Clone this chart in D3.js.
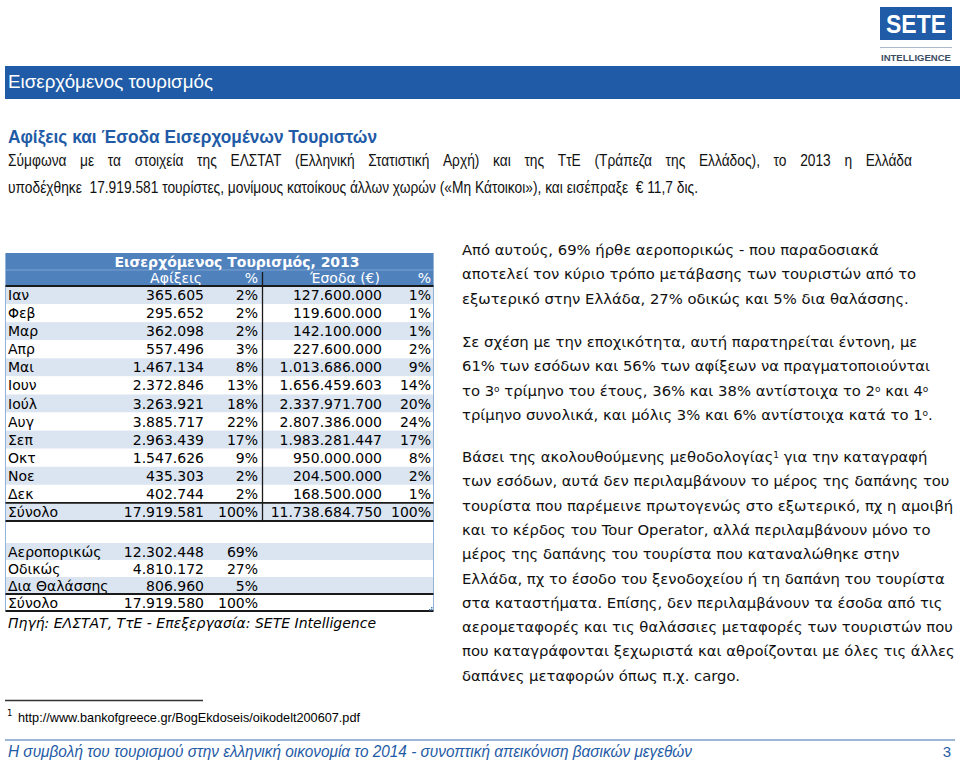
<!DOCTYPE html>
<html><head><meta charset="utf-8">
<script src="https://cdn.jsdelivr.net/npm/d3@7"></script>
<style>body{margin:0;background:#fff}svg{display:block}</style>
</head><body>
<script>
// ---------------- DATA ----------------
const months = ['Ιαν','Φεβ','Μαρ','Απρ','Μαι','Ιουν','Ιούλ','Αυγ','Σεπ','Οκτ','Νοε','Δεκ'];
const arrivals = [365605, 295652, 362098, 557496, 1467134, 2372846, 3263921, 3885717, 2963439, 1547626, 435303, 402744];
const arrivalsPct = [2,2,2,3,8,13,18,22,17,9,2,2];
const revenue = [127600000, 119600000, 142100000, 227600000, 1013686000, 1656459603, 2337971700, 2807386000, 1983281447, 950000000, 204500000, 168500000];
const revenuePct = [1,1,1,2,9,14,20,24,17,8,2,1];
const totalLabel = 'Σύνολο';
const totalArrivals = 17919581, totalArrivalsPct = 100;
const totalRevenue = 11738684750, totalRevenuePct = 100;
const modes = ['Αεροπορικώς','Οδικώς','Δια Θαλάσσης'];
const modeArrivals = [12302448, 4810172, 806960];
const modePct = [69,27,5];
const modeTotal = 17919580, modeTotalPct = 100;
const headerTitle = 'Εισερχόμενος Τουρισμός, 2013';
const headerCols = ['Αφίξεις','%','Έσοδα (€)','%'];
const sourceNote = 'Πηγή: ΕΛΣΤΑΤ, ΤτΕ - Επεξεργασία: SETE Intelligence';

const bannerText = 'Εισερχόμενος τουρισμός';
const sectionTitle = 'Αφίξεις και Έσοδα Εισερχομένων Τουριστών';
const introLines = [
  'Σύμφωνα με τα στοιχεία της ΕΛΣΤΑΤ (Ελληνική Στατιστική Αρχή) και της ΤτΕ (Τράπεζα της Ελλάδος), το 2013 η Ελλάδα',
  'υποδέχθηκε  17.919.581 τουρίστες, μονίμους κατοίκους άλλων χωρών («Μη Κάτοικοι»), και εισέπραξε  € 11,7 δις.'
];
const paragraphs = [
  ['Από αυτούς, 69% ήρθε αεροπορικώς - που παραδοσιακά',
   'αποτελεί τον κύριο τρόπο μετάβασης των τουριστών από το',
   'εξωτερικό στην Ελλάδα, 27% οδικώς και 5% δια θαλάσσης.'],
  ['Σε σχέση με την εποχικότητα, αυτή παρατηρείται έντονη, με',
   '61% των εσόδων και 56% των αφίξεων να πραγματοποιούνται',
   'το 3^ο τρίμηνο του έτους, 36% και 38% αντίστοιχα το 2^ο και 4^ο',
   'τρίμηνο συνολικά, και μόλις 3% και 6% αντίστοιχα κατά το 1^ο.'],
  ['Βάσει της ακολουθούμενης μεθοδολογίας^1 για την καταγραφή',
   'των εσόδων, αυτά δεν περιλαμβάνουν το μέρος της δαπάνης του',
   'τουρίστα που παρέμεινε πρωτογενώς στο εξωτερικό, πχ η αμοιβή',
   'και το κέρδος του Tour Operator, αλλά περιλαμβάνουν μόνο το',
   'μέρος της δαπάνης του τουρίστα που καταναλώθηκε στην',
   'Ελλάδα, πχ το έσοδο του ξενοδοχείου ή τη δαπάνη του τουρίστα',
   'στα καταστήματα. Επίσης, δεν περιλαμβάνουν τα έσοδα από τις',
   'αερομεταφορές και τις θαλάσσιες μεταφορές των τουριστών που',
   'που καταγράφονται ξεχωριστά και αθροίζονται με όλες τις άλλες',
   'δαπάνες μεταφορών όπως π.χ. cargo.']
];
const footnoteNum = '1';
const footnoteText = 'http://www.bankofgreece.gr/BogEkdoseis/oikodelt200607.pdf';
const footerText = 'Η συμβολή του τουρισμού στην ελληνική οικονομία το 2014 - συνοπτική απεικόνιση βασικών μεγεθών';
const pageNumber = '3';

// ---------------- SETUP ----------------
const W = 960, H = 765;
const svg = d3.select('body').append('svg').attr('width', W).attr('height', H);
const sans = "'Liberation Sans', Arial, sans-serif";
const verd = "'DejaVu Sans', Verdana, sans-serif";
const blue = '#1f5ba6';
const headBlue = '#4f81bd';
const stripe = '#dbe5f1';
const gridBlue = '#95b3d7';

const loc = d3.formatLocale({decimal: ',', thousands: '.', grouping: [3], currency: ['€', '']});
const fmtN = loc.format(',d');
const fmtP = v => v + '%';

// condensed look: compress glyphs to a target width
function squeeze(sel, width) {
  return sel.attr('textLength', width).attr('lengthAdjust', 'spacingAndGlyphs');
}

// ---------------- LOGO ----------------
svg.append('rect').attr('x', 880).attr('y', 7).attr('width', 72).attr('height', 33).attr('fill', blue);
squeeze(svg.append('text').attr('x', 886).attr('y', 33)
  .attr('font-family', sans).attr('font-weight', 'bold')
  .attr('font-size', 25).attr('fill', '#fff').text('SETE'), 60);
svg.append('line').attr('x1', 880).attr('x2', 952).attr('y1', 47.5).attr('y2', 47.5)
  .attr('stroke', '#a9b8cc').attr('stroke-width', 1);
squeeze(svg.append('text').attr('x', 881).attr('y', 61)
  .attr('font-family', sans).attr('font-weight', 'bold').attr('font-size', 8.5)
  .attr('fill', '#3b4d63').text('INTELLIGENCE'), 70);

// ---------------- BANNER ----------------
svg.append('rect').attr('x', 5).attr('y', 66).attr('width', 955).attr('height', 33).attr('fill', blue);
squeeze(svg.append('text').attr('x', 8).attr('y', 88).attr('font-family', sans)
  .attr('font-size', 18).attr('fill', '#fff').text(bannerText), 205);

// ---------------- TITLE & INTRO ----------------
squeeze(svg.append('text').attr('x', 8).attr('y', 143).attr('font-family', sans)
  .attr('font-weight', 'bold').attr('font-size', 18).attr('fill', blue).text(sectionTitle), 369);

const bodyFs = 16.5;
const l2 = svg.append('text').attr('x', 8).attr('y', 193).attr('font-family', sans)
  .attr('font-size', bodyFs).attr('fill', '#111').style('white-space', 'pre').text(introLines[1]);
const nat2 = l2.node().getComputedTextLength();
const line2W = 690;
const comp = line2W / nat2;
squeeze(l2, line2W);

// justified first line: words individually squeezed, spread to the right margin
{
  const words = introLines[0].split(' ');
  const g = svg.append('g');
  const ws = g.selectAll('text').data(words).join('text')
    .attr('y', 166).attr('font-family', sans).attr('font-size', bodyFs).attr('fill', '#111').text(d => d);
  const widths = [];
  ws.each(function() { widths.push(this.getComputedTextLength() * comp); });
  const total = d3.sum(widths);
  const gap = (912 - 8 - total) / (words.length - 1);
  let x = 8;
  ws.each(function(d, i) {
    d3.select(this).attr('x', x).attr('textLength', widths[i]).attr('lengthAdjust', 'spacingAndGlyphs');
    x += widths[i] + gap;
  });
}

// ---------------- TABLE ----------------
const tbl = svg.append('g');
const colRight = d3.scaleOrdinal().domain(['arr','ap','rev','rp']).range([204, 258, 382, 431]);
const tableLeft = 5.5, tableRight = 433.5;
const rows = months.map((m, i) => ({label: m, arr: arrivals[i], ap: arrivalsPct[i], rev: revenue[i], rp: revenuePct[i]}))
  .concat([{label: totalLabel, arr: totalArrivals, ap: totalArrivalsPct, rev: totalRevenue, rp: totalRevenuePct, total: true}]);
const yRow = d3.scaleBand().domain(rows.map(d => d.label)).range([286, 521]);
const modeRows = modes.map((m, i) => ({label: m, arr: modeArrivals[i], ap: modePct[i]}))
  .concat([{label: totalLabel, arr: modeTotal, ap: modeTotalPct, total: true}]);
const yMode = d3.scaleBand().domain(modeRows.map(d => d.label)).range([543, 611]);

// header
tbl.append('rect').attr('x', tableLeft).attr('y', 253).attr('width', tableRight - tableLeft).attr('height', 33).attr('fill', headBlue);
tbl.append('line').attr('x1', tableLeft).attr('x2', tableRight).attr('y1', 270).attr('y2', 270).attr('stroke', '#7ea1cf').attr('stroke-width', 1);
tbl.append('text').attr('x', 237).attr('y', 267).attr('text-anchor', 'middle').attr('font-family', verd)
  .attr('font-weight', 'bold').attr('font-size', 14).attr('fill', '#fff').text(headerTitle);
const hdrKeys = ['arr','ap','rev','rp'];
tbl.selectAll('text.hdr').data(headerCols).join('text').attr('class', 'hdr')
  .attr('x', (d, i) => colRight(hdrKeys[i]) - (i === 0 || i === 2 ? 2 : 0)).attr('y', 283)
  .attr('text-anchor', 'end').attr('font-family', verd).attr('font-size', 14).attr('fill', '#fff').text(d => d);

// stripes
tbl.selectAll('rect.row').data(rows).join('rect').attr('class', 'row')
  .attr('x', tableLeft).attr('width', tableRight - tableLeft)
  .attr('y', d => yRow(d.label)).attr('height', yRow.bandwidth())
  .attr('fill', (d, i) => i % 2 === 0 ? stripe : '#fff');
tbl.selectAll('rect.mrow').data(modeRows).join('rect').attr('class', 'mrow')
  .attr('x', tableLeft).attr('width', tableRight - tableLeft)
  .attr('y', d => yMode(d.label)).attr('height', yMode.bandwidth())
  .attr('fill', (d, i) => i % 2 === 0 ? stripe : '#fff');

// row text
function rowText(g, data, y, keys) {
  const grp = g.selectAll(null).data(data).join('g').attr('transform', d => `translate(0,${y(d.label) + y.bandwidth() / 2 + 5})`);
  grp.append('text').attr('x', 8).attr('font-family', verd).attr('font-size', 14).attr('fill', '#000').text(d => d.label);
  keys.forEach(k => {
    grp.append('text').attr('x', colRight(k)).attr('text-anchor', 'end').attr('font-family', verd)
      .attr('font-size', 14).attr('fill', '#000')
      .text(d => (k === 'ap' || k === 'rp') ? fmtP(d[k]) : fmtN(d[k]));
  });
}
rowText(tbl, rows, yRow, ['arr','ap','rev','rp']);
rowText(tbl, modeRows, yMode, ['arr','ap']);

// borders
const dark = '#1a1a1a';
tbl.append('line').attr('x1', tableLeft).attr('x2', tableLeft).attr('y1', 253).attr('y2', 611).attr('stroke', gridBlue).attr('stroke-width', 1);
tbl.append('line').attr('x1', tableRight).attr('x2', tableRight).attr('y1', 253).attr('y2', 611).attr('stroke', gridBlue).attr('stroke-width', 1);
[286, yRow(totalLabel), 521, yMode(totalLabel), 611].forEach(y => {
  tbl.append('line').attr('x1', tableLeft).attr('x2', tableRight).attr('y1', y).attr('y2', y).attr('stroke', dark).attr('stroke-width', 1.8);
});
tbl.append('line').attr('x1', 262.5).attr('x2', 262.5).attr('y1', 272).attr('y2', 522).attr('stroke', dark).attr('stroke-width', 1.3);
[[431,609],[429,609],[431,607]].forEach(p => tbl.append('rect').attr('x', p[0]).attr('y', p[1]).attr('width', 1.5).attr('height', 1.5).attr('fill', '#4f81bd'));

svg.append('text').attr('x', 8).attr('y', 628).attr('font-family', verd).attr('font-style', 'italic')
  .attr('font-size', 14).attr('fill', '#000').text(sourceNote);

// ---------------- RIGHT COLUMN ----------------
const paraTop = [250, 342, 457];
const lineGap = 24.3;
const rc = svg.append('g');
paragraphs.forEach((p, pi) => {
  p.forEach((line, li) => {
    const t = rc.append('text').attr('x', 462).attr('y', paraTop[pi] + li * lineGap + 5)
      .attr('font-family', verd).attr('font-size', 14.8).attr('fill', '#111');
    const parts = line.split(/\^(\S)/);
    parts.forEach((s, k) => {
      if (k % 2 === 0) { if (s) t.append('tspan').text(s); }
      else t.append('tspan').attr('font-size', 9).attr('baseline-shift', '45%').text(s);
    });
  });
});

// ---------------- FOOTNOTE & FOOTER ----------------
svg.append('line').attr('x1', 5).attr('x2', 203).attr('y1', 700.5).attr('y2', 700.5).attr('stroke', '#333').attr('stroke-width', 1.3);
svg.append('text').attr('x', 7).attr('y', 716).attr('font-family', verd).attr('font-size', 8.5).attr('fill', '#000').text(footnoteNum);
squeeze(svg.append('text').attr('x', 18).attr('y', 722).attr('font-family', sans).attr('font-size', 13).attr('fill', '#000').text(footnoteText), 342);
svg.append('line').attr('x1', 5).attr('x2', 955).attr('y1', 740).attr('y2', 740).attr('stroke', '#7f9fc8').attr('stroke-width', 1.5);
squeeze(svg.append('text').attr('x', 8).attr('y', 757).attr('font-family', sans).attr('font-style', 'italic')
  .attr('font-size', 16).attr('fill', blue).text(footerText), 684);
svg.append('text').attr('x', 951).attr('y', 757).attr('text-anchor', 'end').attr('font-family', sans)
  .attr('font-size', 15).attr('fill', blue).text(pageNumber);
</script>
</body></html>
